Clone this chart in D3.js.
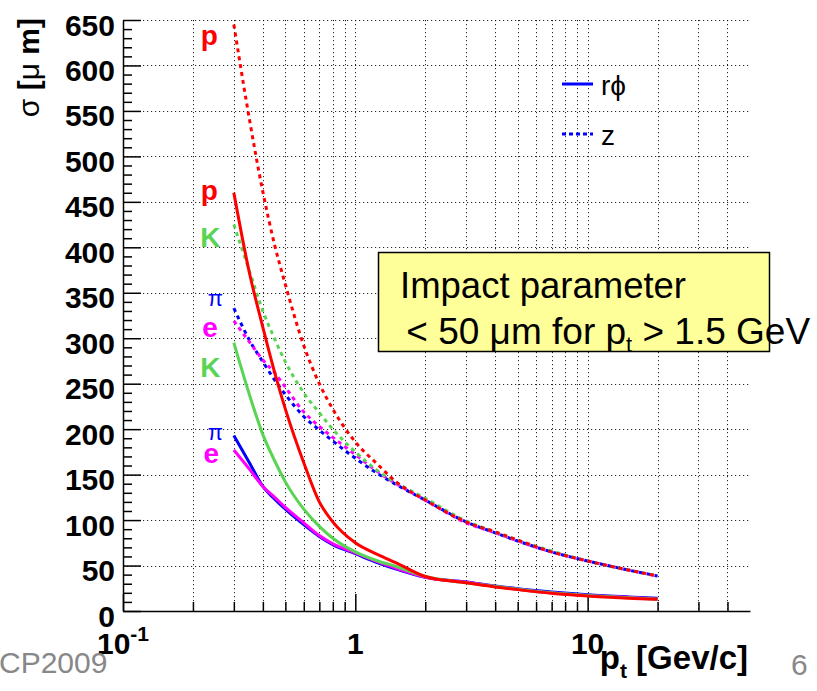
<!DOCTYPE html>
<html>
<head>
<meta charset="utf-8">
<script src="https://cdn.jsdelivr.net/npm/d3@7"></script>
<style>
  body { margin: 0; background: #fff; }
  svg { display: block; font-family: 'Liberation Sans', Arial, Helvetica, sans-serif; }
</style>
</head>
<body>
<div id="chart"></div>
<script>
// transverse momentum samples [GeV/c]
const ptValues = [0.3, 0.35, 0.4, 0.45, 0.5, 0.6, 0.7, 0.8, 1, 1.25, 1.5, 2, 3, 4, 5, 7, 10, 15, 20]

// r-phi resolution [um]
const rphiE = [177, 156, 137, 125, 114, 97, 83, 74, 64, 54, 47, 37, 31.5, 27, 24, 20, 17, 15, 13]
const rphiPi = [193, 163, 137, 123, 112, 95, 82, 73, 63, 53, 46, 37, 32, 27.5, 24.5, 21, 18, 15.5, 14]
const rphiK = [295, 238, 194, 165, 142, 112, 93, 80, 65, 55, 49, 38, 31, 27, 24, 20, 17, 14.5, 13]
const rphiP = [460, 372, 312, 262, 222, 163, 120, 98, 75, 62, 53, 38, 31, 26.5, 23.5, 19.5, 16.5, 14, 13]

// z resolution [um]
const zE = [319, 296, 276, 262, 246, 219, 203, 191, 172, 153, 140, 122, 97, 86, 77, 65, 55, 45, 38.5]
const zPi = [333, 298, 274, 254, 238, 214, 199, 187, 168, 151, 139, 122, 98, 86, 77, 65, 55, 45, 38.5]
const zK = [425, 374, 330, 299, 274, 240, 218, 200, 175, 154, 141, 124, 99, 87, 78, 66, 55, 45, 39]
const zP = [645, 541, 461, 402, 359, 292, 250, 222, 186, 161, 142, 122, 98, 87, 78, 65, 55, 45, 38.5]

const yMajorTicks = [0, 50, 100, 150, 200, 250, 300, 350, 400, 450, 500, 550, 600, 650]
const xMajorTicks = [0.1, 1, 10]
const xMinorTicks = [0.2, 0.3, 0.4, 0.5, 0.6, 0.7, 0.8, 0.9, 2, 3, 4, 5, 6, 7, 8, 9, 20, 30, 40]

// particle labels in plot coordinates (pt, sigma)
const curveLabels = [
  { text: 'p', particle: 'p', pt: 0.235, sigma: 623 },
  { text: 'p', particle: 'p', pt: 0.235, sigma: 452 },
  { text: 'K', particle: 'K', pt: 0.238, sigma: 400 },
  { text: 'π', particle: 'pi', pt: 0.25, sigma: 335 },
  { text: 'e', particle: 'e', pt: 0.237, sigma: 301 },
  { text: 'K', particle: 'K', pt: 0.238, sigma: 257 },
  { text: 'π', particle: 'pi', pt: 0.25, sigma: 188 },
  { text: 'e', particle: 'e', pt: 0.24, sigma: 163 }
]

const colors = { e: '#ff00ff', pi: '#0000ff', K: '#59d454', p: '#ff0000' }

class ResolutionChart {
  constructor (parentSelector, width, height) {
    this.width = width
    this.height = height
    this.chart = d3.select(parentSelector)
    this.left = 123
    this.right = 750
    this.top = 20
    this.bottom = 611

    this.x = d3.scaleLog().domain([0.1, 50]).range([this.left, this.right])
    this.y = d3.scaleLinear().domain([0, 650]).range([this.bottom, this.top])

    this.line = d3
      .line()
      .x((d, i) => this.x(ptValues[i]))
      .y(d => this.y(d))
      .curve(d3.curveMonotoneX)
  }

  create (series) {
    const svg = this.chart
      .append('svg')
      .attr('width', this.width)
      .attr('height', this.height)

    // grid
    const grid = svg.append('g')
      .attr('stroke', '#000')
      .attr('stroke-width', 1)
      .attr('stroke-dasharray', '1.2,2.8')
      .attr('stroke-opacity', 0.85)
    grid.selectAll('.gx')
      .data(xMajorTicks.slice(1).concat(xMinorTicks))
      .enter()
      .append('line')
      .attr('x1', d => Math.round(this.x(d)) + 0.5)
      .attr('x2', d => Math.round(this.x(d)) + 0.5)
      .attr('y1', this.top)
      .attr('y2', this.bottom)
    grid.selectAll('.gy')
      .data(yMajorTicks.slice(1))
      .enter()
      .append('line')
      .attr('x1', this.left)
      .attr('x2', this.right)
      .attr('y1', d => Math.round(this.y(d)) + 0.5)
      .attr('y2', d => Math.round(this.y(d)) + 0.5)

    // y-axis
    const yAxis = d3.axisLeft(this.y)
      .tickValues(yMajorTicks)
      .tickSizeInner(-18)
      .tickSizeOuter(0)
      .tickPadding(8)
    const yMinor = d3.axisLeft(this.y)
      .tickValues(d3.range(0, 651, 10).filter(v => v % 50 !== 0))
      .tickSizeInner(-9)
      .tickSizeOuter(0)
      .tickFormat('')

    const gy = svg.append('g')
      .attr('transform', `translate(${this.left}, 0)`)
      .call(yAxis)
    svg.append('g')
      .attr('transform', `translate(${this.left}, 0)`)
      .call(yMinor)
      .select('.domain').remove()
    gy.selectAll('.tick text')
      .attr('dy', '0.5em')
      .style('font-size', '30px')
      .style('font-weight', 'bold')
      .style('font-family', "'Liberation Sans', Arial, sans-serif")
      .attr('fill', '#000')

    // x-axis
    const xAxis = d3.axisBottom(this.x)
      .tickValues(xMajorTicks)
      .tickSizeInner(-17)
      .tickSizeOuter(0)
      .tickFormat('')
    const xMinor = d3.axisBottom(this.x)
      .tickValues(xMinorTicks)
      .tickSizeInner(-9)
      .tickSizeOuter(0)
      .tickFormat('')
    svg.append('g')
      .attr('transform', `translate(0, ${this.bottom})`)
      .call(xAxis)
    svg.append('g')
      .attr('transform', `translate(0, ${this.bottom})`)
      .call(xMinor)
      .select('.domain').remove()

    svg.selectAll('.domain, .tick line')
      .attr('stroke', '#000')
      .attr('stroke-width', 1.5)

    const xLabels = svg.append('g')
      .attr('font-size', 30)
      .attr('font-weight', 'bold')
      .attr('text-anchor', 'middle')
    xMajorTicks.forEach(v => {
      const t = xLabels.append('text')
        .attr('x', this.x(v))
        .attr('y', 654)
      const exp = Math.round(Math.log10(v))
      if (exp < 0) {
        t.text('10')
        t.append('tspan').attr('dy', -13).attr('font-size', 21).text(exp)
      } else {
        t.text(exp === 0 ? '1' : '10')
      }
    })

    // axis titles
    const yTitle = svg.append('text')
      .attr('transform', 'translate(39, 18) rotate(-90)')
      .attr('text-anchor', 'end')
      .attr('font-size', 30)
      .attr('font-weight', 'bold')
    yTitle.append('tspan').attr('font-weight', 'normal').text('σ')
    yTitle.append('tspan').text(' [')
    yTitle.append('tspan').attr('font-weight', 'normal').text('μ')
    yTitle.append('tspan').text(' m]')

    const xTitle = svg.append('text')
      .attr('x', 748)
      .attr('y', 669)
      .attr('text-anchor', 'end')
      .attr('font-size', 33)
      .attr('font-weight', 'bold')
    xTitle.append('tspan').text('p')
    xTitle.append('tspan').attr('dy', 9).attr('font-size', 21).text('t')
    xTitle.append('tspan').attr('dy', -9).text(' [Gev/c]')

    // curves
    svg.append('g')
      .attr('fill', 'none')
      .attr('stroke-width', 3)
      .selectAll('path')
      .data(series)
      .enter()
      .append('path')
      .attr('stroke', d => colors[d.particle])
      .attr('stroke-dasharray', d => d.dashed ? '4,4' : null)
      .attr('d', d => this.line(d.values))

    // particle labels
    svg.append('g')
      .attr('text-anchor', 'middle')
      .selectAll('text')
      .data(curveLabels)
      .enter()
      .append('text')
      .attr('x', d => this.x(d.pt))
      .attr('y', d => this.y(d.sigma))
      .attr('fill', d => colors[d.particle])
      .attr('font-weight', d => d.text === 'π' ? 'normal' : 'bold')
      .attr('font-size', d => d.text === 'π' ? 22 : 28)
      .text(d => d.text)

    // legend
    const legend = svg.append('g').attr('transform', 'translate(562, 0)')
    const legendItems = [
      { label: 'rϕ', dashed: false, y: 84 },
      { label: 'z', dashed: true, y: 134 }
    ]
    legendItems.forEach(item => {
      legend.append('line')
        .attr('x1', 0)
        .attr('x2', 31)
        .attr('y1', item.y)
        .attr('y2', item.y)
        .attr('stroke', colors.pi)
        .attr('stroke-width', 3)
        .attr('stroke-dasharray', item.dashed ? '4,3' : null)
      legend.append('text')
        .attr('x', 39)
        .attr('y', item.y + 11)
        .attr('font-size', 28)
        .text(item.label)
    })

    // annotation box
    svg.append('rect')
      .attr('x', 378.5)
      .attr('y', 252.5)
      .attr('width', 391)
      .attr('height', 99)
      .attr('fill', '#ffff99')
      .attr('stroke', '#000')
      .attr('stroke-width', 1.5)
    svg.append('text')
      .attr('x', 400)
      .attr('y', 298)
      .attr('font-size', 36.5)
      .text('Impact parameter')
    const line2 = svg.append('text')
      .attr('x', 396)
      .attr('y', 344)
      .attr('font-size', 37)
      .attr('xml:space', 'preserve')
    line2.append('tspan').text(' < 50 μm for p')
    line2.append('tspan').attr('dy', 8).attr('font-size', 22).text('t')
    line2.append('tspan').attr('dy', -8).text(' > 1.5 GeV')

    // slide footer
    svg.append('text')
      .attr('x', -1)
      .attr('y', 673)
      .attr('font-size', 30)
      .attr('fill', '#888')
      .text('CP2009')
    svg.append('text')
      .attr('x', 791)
      .attr('y', 675)
      .attr('font-size', 30)
      .attr('fill', '#888')
      .text('6')
  }
}

const chart = new ResolutionChart('#chart', 817, 691)
chart.create([
  { particle: 'pi', dashed: true, values: zPi },
  { particle: 'e', dashed: true, values: zE },
  { particle: 'K', dashed: true, values: zK },
  { particle: 'p', dashed: true, values: zP },
  { particle: 'pi', dashed: false, values: rphiPi },
  { particle: 'e', dashed: false, values: rphiE },
  { particle: 'K', dashed: false, values: rphiK },
  { particle: 'p', dashed: false, values: rphiP }
])
</script>
</body>
</html>
